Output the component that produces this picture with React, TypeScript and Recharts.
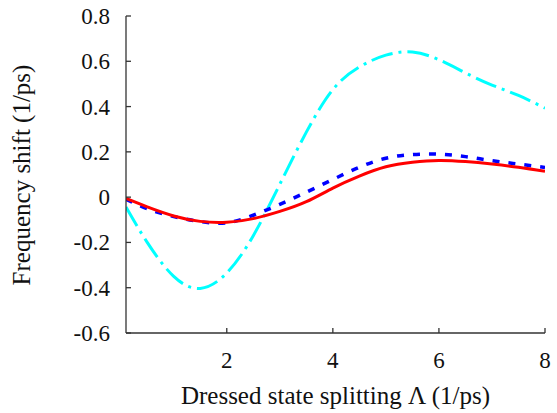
import React from "react"
import { Label, Line, LineChart, XAxis, YAxis } from "recharts"

const splitting = [0.1, 0.5, 1, 1.5, 2, 2.5, 3, 3.5, 4, 4.5, 5, 5.5, 6, 6.5, 7, 7.5, 8]
const redShift = [-0.006, -0.043, -0.083, -0.107, -0.111, -0.095, -0.063, -0.02, 0.04, 0.093, 0.134, 0.154, 0.162, 0.157, 0.146, 0.132, 0.114]
const blueShift = [-0.009, -0.051, -0.086, -0.108, -0.113, -0.08, -0.032, 0.022, 0.078, 0.132, 0.172, 0.188, 0.19, 0.179, 0.161, 0.146, 0.131]
const cyanShift = [-0.044, -0.2, -0.35, -0.403, -0.335, -0.17, 0.057, 0.287, 0.475, 0.575, 0.627, 0.641, 0.607, 0.549, 0.495, 0.449, 0.393]

const xTicks = [2, 4, 6, 8]
const yTicks = [-0.6, -0.4, -0.2, 0, 0.2, 0.4, 0.6, 0.8]

const data = splitting.map((x, i) => ({
  x,
  red: redShift[i],
  blue: blueShift[i],
  cyan: cyanShift[i],
}))

const W = 557
const H = 413
const Y_AXIS_W = 126
const X_AXIS_H = 80
const AXIS_X = Y_AXIS_W // left edge of plot
const AXIS_Y = H - X_AXIS_H // bottom edge of plot

const font = "'Liberation Serif', 'Times New Roman', serif"
const axisColor = "#333"
const textColor = "#111"

const fmtY = (v: number) => (v === 0 ? "0" : v.toFixed(1))

// ticks point inward, like the original plot
const renderXTick = (props: any) => {
  const { x, payload } = props
  return (
    <g key={`xt-${payload.value}`}>
      <line x1={x} x2={x} y1={AXIS_Y} y2={AXIS_Y - 5} stroke={axisColor} strokeWidth={1.3} />
      <text
        x={x}
        y={AXIS_Y + 35}
        textAnchor="middle"
        fontFamily={font}
        fontSize={23}
        fill={textColor}
      >
        {payload.value}
      </text>
    </g>
  )
}

const renderYTick = (props: any) => {
  const { y, payload } = props
  return (
    <g key={`yt-${payload.value}`}>
      <line x1={AXIS_X} x2={AXIS_X + 5} y1={y} y2={y} stroke={axisColor} strokeWidth={1.3} />
      <text
        x={AXIS_X - 16}
        y={y + 8}
        textAnchor="end"
        fontFamily={font}
        fontSize={23}
        fill={textColor}
      >
        {fmtY(payload.value)}
      </text>
    </g>
  )
}

export default function App() {
  return (
    <div
      style={{
        position: "absolute",
        left: 0,
        top: 0,
        width: W,
        height: H,
        background: "#fff",
        fontFamily: font,
      }}
    >
      <LineChart
        width={W}
        height={H}
        data={data}
        margin={{ top: 16, right: 12, bottom: 0, left: 0 }}
      >
        <XAxis
          dataKey="x"
          type="number"
          domain={[0.1, 8]}
          ticks={xTicks}
          allowDataOverflow
          height={X_AXIS_H}
          tickLine={false}
          stroke={axisColor}
          strokeWidth={1.3}
          tick={renderXTick}
        >
          <Label
            content={() => (
              <text x={335.5} y={404} textAnchor="middle" fontFamily={font} fontSize={25} fill={textColor}>
                Dressed state splitting Λ (1/ps)
              </text>
            )}
          />
        </XAxis>
        <YAxis
          type="number"
          domain={[-0.6, 0.8]}
          ticks={yTicks}
          width={Y_AXIS_W}
          tickLine={false}
          stroke={axisColor}
          strokeWidth={1.3}
          tick={renderYTick}
        >
          <Label
            content={() => (
              <text
                x={30}
                y={175}
                transform="rotate(-90 30 175)"
                textAnchor="middle"
                fontFamily={font}
                fontSize={25}
                fill={textColor}
              >
                Frequency shift (1/ps)
              </text>
            )}
          />
        </YAxis>
        <Line
          type="natural"
          dataKey="cyan"
          stroke="#00ffff"
          strokeWidth={3}
          strokeDasharray="22 6 3 6"
          dot={false}
          isAnimationActive={false}
        />
        <Line
          type="natural"
          dataKey="blue"
          stroke="#0000ff"
          strokeWidth={3.5}
          strokeDasharray="7 9"
          dot={false}
          isAnimationActive={false}
        />
        <Line
          type="natural"
          dataKey="red"
          stroke="#ff0000"
          strokeWidth={3}
          dot={false}
          isAnimationActive={false}
        />
      </LineChart>
    </div>
  )
}
